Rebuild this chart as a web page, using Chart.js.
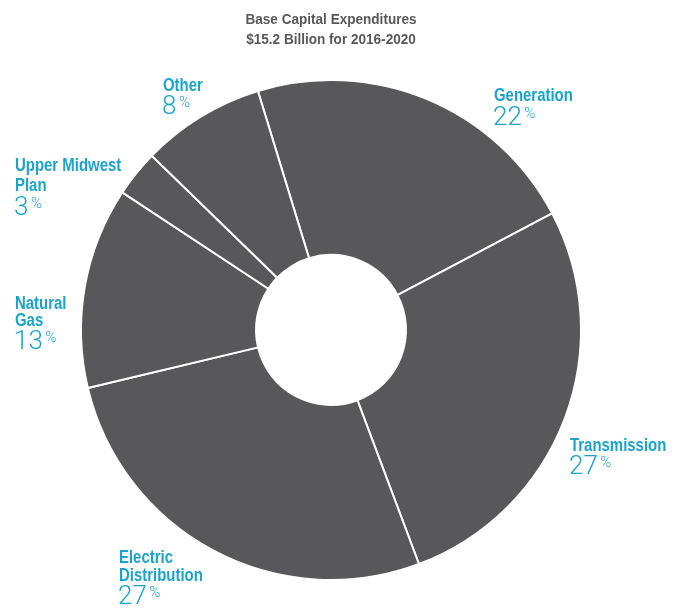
<!DOCTYPE html>
<html>
<head>
<meta charset="utf-8">
<script src="https://cdn.jsdelivr.net/npm/chart.js@4/dist/chart.umd.min.js"></script>
<style>
  html, body { margin: 0; padding: 0; background: #ffffff; }
  #wrap { width: 681px; height: 608px; position: relative; }
</style>
</head>
<body>
<div id="wrap"><canvas id="c" width="681" height="608"></canvas></div>
<script>
// ---- data ----
const categories = ['Generation', 'Transmission', 'Electric Distribution', 'Natural Gas', 'Upper Midwest Plan', 'Other'];
const shares = [22, 27, 27, 13, 3, 8];
const labelLines = [['Generation'], ['Transmission'], ['Electric', 'Distribution'], ['Natural', 'Gas'], ['Upper Midwest', 'Plan'], ['Other']];
const titleLines = ['Base Capital Expenditures', '$15.2 Billion for 2016-2020'];

// ---- layout / style ----
const SLICE = '#58585a';
const LABEL = '#1ba3cc';
const TITLE = '#58585a';
const BOLD = 'bold 18px "Liberation Sans", Arial, sans-serif';
const TITLEFONT = 'bold 15.5px "Liberation Sans", Arial, sans-serif';
const NUMFONT = '300 26px Roboto, "Liberation Sans", sans-serif';
const PCTFONT = '300 15px Roboto, "Liberation Sans", sans-serif';
const NARROW = 0.83;       // horizontal condensing of the label face
const TITLE_NARROW = 0.875; // horizontal condensing of the title face
// label anchor: x, first baseline, line spacing, gap to number baseline
const labelPos = [
  { x: 494, y: 101, lh: 17, ng: 24 },
  { x: 570, y: 451, lh: 17, ng: 23 },
  { x: 119, y: 563, lh: 17.5, ng: 23 },
  { x: 15, y: 309, lh: 17, ng: 23 },
  { x: 15, y: 171, lh: 20, ng: 24 },
  { x: 163, y: 90.5, lh: 17, ng: 23 }
];

function narrowText(ctx, text, x, y, align, k) {
  ctx.save();
  ctx.translate(x, y);
  ctx.scale(k, 1);
  ctx.textAlign = align;
  ctx.fillText(text, 0, 0);
  ctx.restore();
}

const textPlugin = {
  id: 'texts',
  afterDraw(chart) {
    const ctx = chart.ctx;
    ctx.save();
    ctx.textBaseline = 'alphabetic';
    // title
    ctx.fillStyle = TITLE;
    ctx.font = TITLEFONT;
    narrowText(ctx, titleLines[0], 331, 24, 'center', TITLE_NARROW);
    narrowText(ctx, titleLines[1], 331, 44, 'center', TITLE_NARROW);
    // labels
    ctx.fillStyle = LABEL;
    labelLines.forEach((lines, i) => {
      const p = labelPos[i];
      ctx.font = BOLD;
      lines.forEach((t, j) => narrowText(ctx, t, p.x, p.y + j * p.lh, 'left', NARROW));
      const nb = p.y + (lines.length - 1) * p.lh + p.ng;
      ctx.font = NUMFONT;
      ctx.textAlign = 'left';
      const num = String(chart.data.datasets[0].data[i]);
      ctx.fillText(num, p.x - 1, nb);
      const w = ctx.measureText(num).width;
      ctx.font = PCTFONT;
      ctx.fillText('%', p.x + w + 1.5, nb - 7);
    });
    ctx.restore();
  }
};

new Chart(document.getElementById('c'), {
  type: 'doughnut',
  data: {
    labels: categories,
    datasets: [{
      data: shares,
      backgroundColor: SLICE,
      borderColor: '#ffffff',
      borderWidth: 2,
      hoverOffset: 0,
      hoverBorderWidth: 2
    }]
  },
  options: {
    responsive: false,
    animation: false,
    rotation: -17,
    cutout: '30%',
    layout: { padding: { top: 79, bottom: 27, left: 0, right: 19 } },
    plugins: {
      legend: { display: false },
      tooltip: { enabled: false },
      title: { display: false }
    },
    events: []
  },
  plugins: [textPlugin]
});
</script>
</body>
</html>
